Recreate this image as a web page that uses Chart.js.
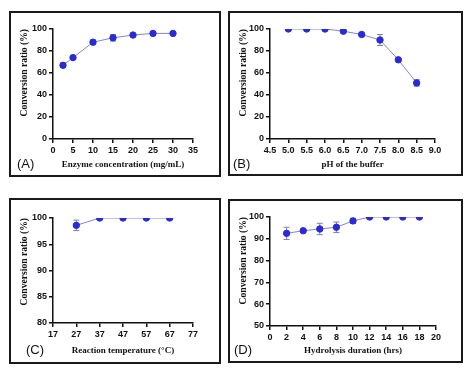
<!DOCTYPE html>
<html>
<head>
<meta charset="utf-8">
<script src="https://cdn.jsdelivr.net/npm/chart.js@4.4.0/dist/chart.umd.min.js"></script>
<style>
  body { margin: 0; background: #fff; }
  .box { position: absolute; border: 2px solid #1a1a1a; box-sizing: border-box; background: #fff; }
  .box canvas { position: absolute; left: 0; top: 0; }
  .tag { position: absolute; font: 13px "Liberation Sans", Arial, sans-serif; line-height: 13px; color: #111; }
</style>
</head>
<body>
<div class="box" id="boxA" style="left:9px;top:11px;width:212px;height:166px;">
  <canvas id="chartA" width="208" height="162"></canvas>
  <span class="tag" style="left:6px;top:144px;">(A)</span>
</div>
<div class="box" id="boxB" style="left:228px;top:11px;width:235px;height:165px;">
  <canvas id="chartB" width="231" height="161"></canvas>
  <span class="tag" style="left:3px;top:144px;">(B)</span>
</div>
<div class="box" id="boxC" style="left:9px;top:198px;width:212px;height:166px;">
  <canvas id="chartC" width="208" height="162"></canvas>
  <span class="tag" style="left:15px;top:143px;">(C)</span>
</div>
<div class="box" id="boxD" style="left:228px;top:199px;width:235px;height:164px;">
  <canvas id="chartD" width="231" height="160"></canvas>
  <span class="tag" style="left:4px;top:142px;">(D)</span>
</div>
<script>
// (A) enzyme concentration
const enzymeConc = [2.5, 5, 10, 15, 20, 25, 30];
const enzymeRatio = [67, 74, 88, 92, 94.5, 96, 96];
const enzymeErr = [2, 1, 2, 3, 1, 1.5, 1];

// (B) pH
const phValues = [5.0, 5.5, 6.0, 6.5, 7.0, 7.5, 8.0, 8.5];
const phRatio = [100, 100, 100, 98, 95, 90, 72, 51];
const phErr = [0, 0, 0, 0.5, 0.5, 5, 1.5, 3];

// (C) temperature
const tempValues = [27, 37, 47, 57, 67];
const tempRatio = [98.6, 100, 100, 100, 100];
const tempErr = [1, 0, 0, 0, 0];

// (D) hydrolysis duration
const hours = [2, 4, 6, 8, 10, 12, 14, 16, 18];
const hoursRatio = [92.5, 93.7, 94.5, 95.3, 98.2, 100, 100, 100, 100];
const hoursErr = [2.8, 0.5, 2.6, 2.4, 1.2, 0, 0, 0, 0];

const tickFont = { family: '"Liberation Sans", Arial, sans-serif', size: 9, weight: 'bold' };
const xTitleFont = { family: '"Liberation Serif", "Times New Roman", serif', size: 9, weight: 'bold' };
const yTitleFont = { family: '"Liberation Serif", "Times New Roman", serif', size: 9.6, weight: 'bold' };

const errorBars = {
  id: 'errorBars',
  beforeDatasetsDraw(chart) {
    const errs = chart.options.plugins.errorBars.errors;
    const meta = chart.getDatasetMeta(0);
    const ys = chart.scales.y;
    const ctx = chart.ctx;
    ctx.save();
    ctx.strokeStyle = '#7d7dc0';
    ctx.lineWidth = 1;
    meta.data.forEach(function (pt, i) {
      const e = errs[i];
      if (!e) return;
      const v = chart.data.datasets[0].data[i].y;
      const top = ys.getPixelForValue(v + e);
      const bot = ys.getPixelForValue(v - e);
      ctx.beginPath();
      ctx.moveTo(pt.x, top); ctx.lineTo(pt.x, bot);
      ctx.moveTo(pt.x - 3, top); ctx.lineTo(pt.x + 3, top);
      ctx.moveTo(pt.x - 3, bot); ctx.lineTo(pt.x + 3, bot);
      ctx.stroke();
    });
    ctx.restore();
  }
};

function makePanel(id, xs, ys, errs, p) {
  const canvas = document.getElementById(id);
  const pts = xs.map(function (x, i) { return { x: x, y: ys[i] }; });
  return new Chart(canvas, {
    type: 'line',
    data: {
      datasets: [{
        data: pts,
        borderColor: '#8383d2',
        borderWidth: 1,
        pointBackgroundColor: '#2a2ad6',
        pointBorderColor: '#2a2ad6',
        pointRadius: 3.2,
        tension: 0
      }]
    },
    options: {
      responsive: false,
      animation: false,
      events: [],
      layout: { padding: { top: p.top, right: canvas.width - p.right, left: 0, bottom: 0 } },
      plugins: {
        legend: { display: false },
        tooltip: { enabled: false },
        errorBars: { errors: errs }
      },
      scales: {
        x: {
          type: 'linear',
          min: p.xmin, max: p.xmax,
          afterFit: function (s) { s.height = canvas.height - p.bottom; },
          grid: { drawOnChartArea: false, drawTicks: true, tickLength: 4, color: '#111', lineWidth: 1.5 },
          border: { color: '#111', width: 1.5 },
          ticks: {
            stepSize: p.xstep, padding: 2, color: '#111', font: tickFont, maxRotation: 0, autoSkip: false,
            callback: p.xfmt || function (v) { return v; }
          },
          title: { display: true, text: p.xtitle, color: '#111', font: xTitleFont, padding: { top: 0, bottom: p.tpad } }
        },
        y: {
          min: p.ymin, max: p.ymax,
          afterFit: function (s) { s.width = p.left; },
          grid: { drawOnChartArea: false, drawTicks: true, tickLength: 4, color: '#111', lineWidth: 1.5 },
          border: { color: '#111', width: 1.5 },
          ticks: { stepSize: p.ystep, padding: 2, color: '#111', font: tickFont },
          title: { display: true, text: 'Conversion ratio (%)', align: 'end', color: '#111', font: yTitleFont, padding: { top: 8, bottom: 0 } }
        }
      }
    },
    plugins: [errorBars]
  });
}

makePanel('chartA', enzymeConc, enzymeRatio, enzymeErr, {
  left: 42, right: 182, top: 16, bottom: 126, tpad: 5,
  xmin: 0, xmax: 35, xstep: 5, ymin: 0, ymax: 100, ystep: 20,
  xtitle: 'Enzyme concentration (mg/mL)'
});
makePanel('chartB', phValues, phRatio, phErr, {
  left: 40, right: 205, top: 16, bottom: 126, tpad: 4,
  xmin: 4.5, xmax: 9.0, xstep: 0.5, ymin: 0, ymax: 100, ystep: 20,
  xfmt: function (v) { return v.toFixed(1); },
  xtitle: 'pH of the buffer'
});
makePanel('chartC', tempValues, tempRatio, tempErr, {
  left: 42, right: 182, top: 18, bottom: 123, tpad: 6,
  xmin: 17, xmax: 77, xstep: 10, ymin: 80, ymax: 100, ystep: 5,
  xtitle: 'Reaction temperature (°C)'
});
makePanel('chartD', hours, hoursRatio, hoursErr, {
  left: 40, right: 206, top: 16, bottom: 125, tpad: 5,
  xmin: 0, xmax: 20, xstep: 2, ymin: 50, ymax: 100, ystep: 10,
  xtitle: 'Hydrolysis duration (hrs)'
});
</script>
</body>
</html>
